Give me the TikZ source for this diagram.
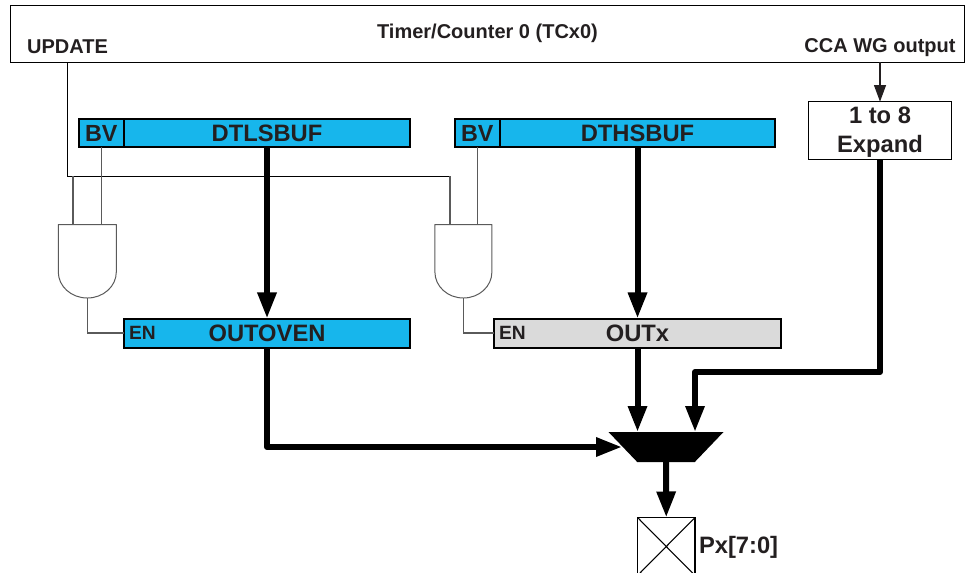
\documentclass[tikz,border=0pt]{standalone}
\usepackage{fontspec}
\setmainfont{Liberation Sans}
\usetikzlibrary{arrows.meta,calc}
\definecolor{barblue}{HTML}{17B6EC}
\definecolor{bargray}{HTML}{DADADA}
\definecolor{inkc}{HTML}{231F20}
\definecolor{wirec}{HTML}{5A5A5A}
\tikzset{
  box/.style={draw=black,inner sep=0pt,outer sep=0pt,text=inkc,font=\bfseries\fontsize{17.8pt}{21.75pt}\selectfont},
  bluebar/.style={box,fill=barblue,line width=1.5pt},
  graybar/.style={box,fill=bargray,line width=1.5pt},
  plainbox/.style={box,fill=white,line width=0.8pt},
  lbl/.style={inner sep=0pt,outer sep=0pt,text=inkc,font=\bfseries\fontsize{15pt}{18pt}\selectfont},
  lblbig/.style={inner sep=0pt,outer sep=0pt,text=inkc,font=\bfseries\fontsize{17.8pt}{21.75pt}\selectfont},
  lblen/.style={inner sep=0pt,outer sep=0pt,text=inkc,font=\bfseries\fontsize{14.4pt}{17pt}\selectfont},
  ghost/.style={inner sep=0pt,outer sep=0pt},
  wire/.style={draw=wirec,line width=0.8pt},
  blackwire/.style={draw=black,line width=0.8pt},
  bus/.style={draw=black,line width=4.5pt,line join=round,-{Triangle[length=19.5pt,width=13.5pt]}},
  thinarrow/.style={draw=inkc,line width=0.9pt,-{Triangle[length=12.5pt,width=9pt]}},
  gateshape/.style={draw=wirec,line width=0.75pt,line join=round},
}
\begin{document}
\begin{tikzpicture}[x=0.75pt,y=-0.75pt]
\clip (0,0) rectangle (966,573);
% top block
\node[plainbox,minimum width=715.5pt,minimum height=42.75pt] (tc) at (487.5,33.8) {};
\node[lbl] (title) at (487.5,33) {Timer/Counter 0 (TCx0)};
\node[lbl] (upd) at (67.5,47) {UPDATE};
\node[lbl] (cca) at (880,47.5) {CCA WG output};
% registers
\node[bluebar,minimum width=34.1pt,minimum height=21.4pt] (bva) at (101.25,133.2) {\fontsize{17.5pt}{21pt}\selectfont BV};
\node[bluebar,minimum width=214.5pt,minimum height=21.4pt] (dtl) at (267,133.2) {DTLSBUF};
\node[bluebar,minimum width=34.1pt,minimum height=21.4pt] (bvb) at (477.25,133.2) {\fontsize{17.5pt}{21pt}\selectfont BV};
\node[bluebar,minimum width=206.25pt,minimum height=21.4pt] (dth) at (637.5,133.2) {DTHSBUF};
\node[bluebar,minimum width=214.5pt,minimum height=21.75pt] (oven) at (267,333) {OUTOVEN};
\node[graybar,minimum width=215.25pt,minimum height=21.75pt] (outx) at (637.5,333) {OUTx};
\node[lblen,anchor=west] (ena) at (129,333) {EN};
\node[lblen,anchor=west] (enb) at (499,333) {EN};
\node[plainbox,minimum width=107.25pt,minimum height=43.2pt] (exp) at (880,130.5) {};
\node[lblbig,align=center] (explbl) at (880,132.5) {1 to 8\\Expand};
% gates
\node[ghost,minimum width=43.5pt,minimum height=55.1pt] (ga) at (87.3,261.25) {};
\node[ghost,minimum width=42.75pt,minimum height=55.1pt] (gb) at (463.4,261.25) {};
\draw[gateshape] (ga.south east) ++(0,-26) -- (ga.north east) -- (ga.north west) -- ++(0,47.5) arc[start angle=180,end angle=0,x radius=29,y radius=26];
\draw[gateshape] (gb.south east) ++(0,-26) -- (gb.north east) -- (gb.north west) -- ++(0,47.5) arc[start angle=180,end angle=0,x radius=28.5,y radius=26];
% mux and pad
\node[ghost,minimum width=86.25pt,minimum height=22.5pt] (mux) at (666,447) {};
\fill[black] (mux.north west) -- (mux.north east) -- ($(mux.south east)+(-28.7,0)$) -- ($(mux.south west)+(28.7,0)$) -- cycle;
\node[plainbox,minimum width=43.1pt,minimum height=43.5pt] (pad) at (666.25,546.5) {};
\draw[blackwire] (pad.north west) -- (pad.south east) (pad.north east) -- (pad.south west);
\node[lblbig,anchor=west] (pxl) at (699,547) {Px[7:0]};
% free connector points
\coordinate (upstart) at (67.5,62.3);
\coordinate (upj) at (67.5,176.5);
\coordinate (upa) at (73,176.5);
\coordinate (upb) at (450,176.5);
\coordinate (ina) at (73,224.5);
\coordinate (inb) at (450,224.5);
\coordinate (ccab) at (880,62.3);
\coordinate (expin) at (880,101.7);
\coordinate (oxin) at (637.5,432);
\coordinate (muxr) at (695,432);
\coordinate (muxl) at (622,447);
% thin wires
\draw[blackwire] (upstart) -- (upj) -- (upb);
\draw[wire] (upb) -- (inb);
\draw[wire] (upa) -- (ina);
\draw[wire] (bva.south) -- (bva.south |- ga.north);
\draw[wire] (bvb.south) -- (bvb.south |- gb.north);
\draw[wire] (ga.south) |- (oven.west);
\draw[wire] (gb.south) |- (outx.west);
\draw[thinarrow] (ccab) -- (expin);
% buses
\draw[bus] (dtl.south) -- (oven.north);
\draw[bus] (dth.south) -- (outx.north);
\draw[bus] (outx.south) -- (oxin);
\draw[bus] (oven.south) |- (muxl);
\draw[bus] (exp.south) |- (695,372) -- (muxr);
\draw[bus] (mux.south) -- (pad.north);
\end{tikzpicture}
\end{document}
